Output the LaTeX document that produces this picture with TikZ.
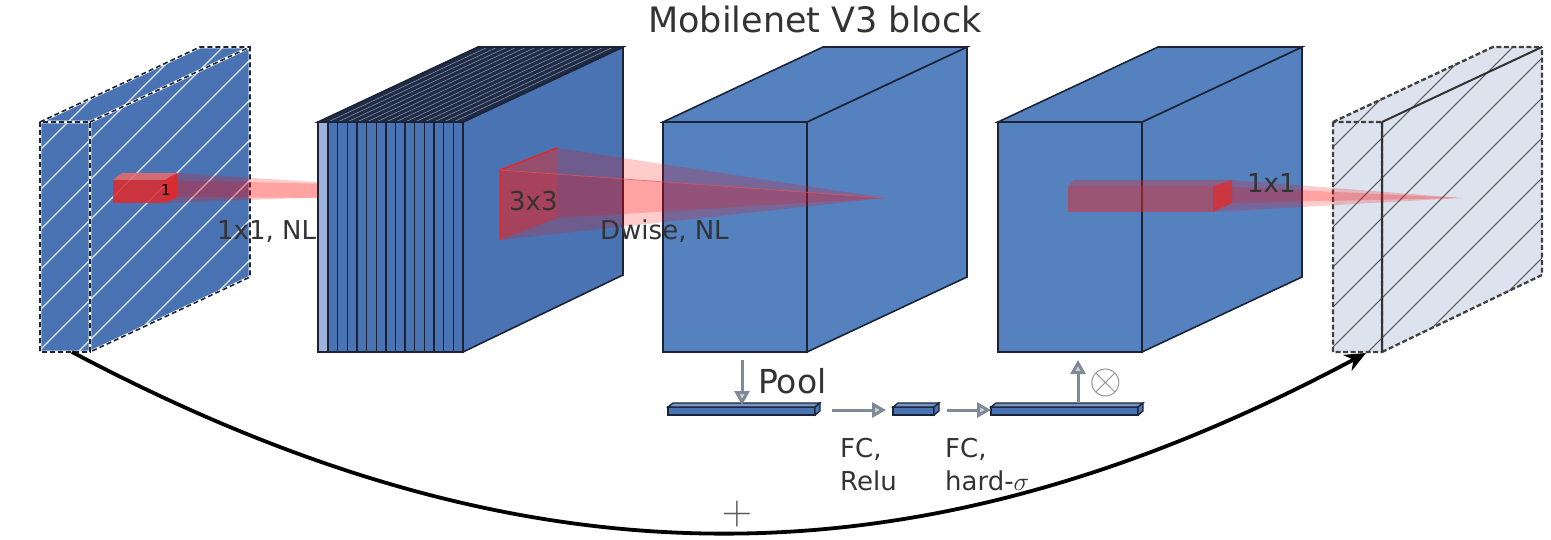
\RequirePackage{fix-cm}
\documentclass[tikz,border=0pt]{standalone}
\usepackage{fontspec}
\setmainfont{DejaVu Sans}
\usetikzlibrary{arrows.meta}
\definecolor{bblue}{HTML}{4A73B3}
\definecolor{cblue}{HTML}{5581BF}
\definecolor{edge}{HTML}{1A2436}
\definecolor{navy}{HTML}{1F2C47}
\definecolor{lslice}{HTML}{9DB3DA}
\definecolor{pale}{HTML}{DDE3EE}
\definecolor{txt}{HTML}{333333}
\definecolor{agray}{HTML}{7F8A96}
\definecolor{rbox}{HTML}{E02A2A}
\begin{document}
\begin{tikzpicture}[x=1pt,y=-1pt,
  edgeline/.style={draw=edge,line width=1.6pt},
  beam/.style={fill=red,fill opacity=0.2},
  hatchw/.style={draw=white!85!bblue,line width=1.4pt},
  hatchd/.style={draw=black!70,line width=1pt},
  dashedge/.style={draw=edge,line width=1.6pt,dash pattern=on 5pt off 3pt},
  garrow/.style={draw=agray,line width=3pt,-{Triangle[length=14pt,width=15pt,fill=agray!40]}},
  slabst/.style={fill=bblue,draw=edge,line width=1.3pt},
  lbl/.style={text=txt,inner sep=0pt,font=\fontsize{26}{30}\selectfont}]
\useasboundingbox (0,0) rectangle (1551,540);

% ---------- block 1 (input, hatched) ----------
\fill[bblue] (40,122) -- (40,352) -- (90,352) -- (250,277) -- (250,47) -- (200,47) -- cycle;
\begin{scope}
  \clip (40,122) -- (40,352) -- (90,352) -- (250,277) -- (250,47) -- (200,47) -- cycle;
  \foreach \k in {-330,-290,...,250} \draw[hatchw] (\k,400) -- ++(400,-400);
\end{scope}
\draw[white,line width=2.6pt] (40,122) rectangle (90,352) (90,122) -- (250,47) -- (250,277) -- (90,352) (40,122) -- (200,47) -- (250,47);
\draw[dashedge] (40,122) rectangle (90,352) (90,122) -- (250,47) -- (250,277) -- (90,352) (40,122) -- (200,47) -- (250,47);

% red 1x1 column and its projection
\fill[beam] (177,173) -- (330,183) -- (330,198) -- (177,197) -- cycle;
\fill[beam] (165,180) -- (330,184) -- (330,197) -- (165,203) -- cycle;
\fill[rbox,fill opacity=0.85] (113,180) rectangle (165,203);
\fill[rbox!70!white,fill opacity=0.85] (113,180) -- (122,173) -- (177,173) -- (165,180) -- cycle;
\fill[rbox,fill opacity=0.95] (165,180) -- (177,173) -- (177,197) -- (165,203) -- cycle;
\node[text=black,inner sep=0pt,anchor=base west,font=\fontsize{15}{15}\selectfont] (one) at (161,196) {1};

% ---------- block 2 (expansion, sliced) ----------
\filldraw[fill=bblue,edgeline] (463,122) -- (623,47) -- (623,275) -- (463,352) -- cycle;
\fill[navy] (318,122) -- (463,122) -- (623,47) -- (478,47) -- cycle;
\foreach \i in {0,...,14} \draw[draw=navy!55!white,line width=0.6pt] ({328+\i*9.643},122) -- ++(160,-75);
\draw[edgeline] (318,122) -- (463,122) -- (623,47) -- (478,47) -- cycle;
\fill[lslice] (318,122) rectangle (328,352);
\fill[bblue] (328,122) rectangle (463,352);
\foreach \i in {0,...,14} \draw[draw=edge,line width=1.3pt] ({328+\i*9.643},122) -- ++(0,230);
\draw[edgeline] (318,122) rectangle (463,352);

% ---------- block 3 ----------
\filldraw[fill=cblue,edgeline] (807,122) -- (967,47) -- (967,277) -- (807,352) -- cycle;
\filldraw[fill=cblue,edgeline] (663,122) -- (807,122) -- (967,47) -- (823,47) -- cycle;
\filldraw[fill=cblue,edgeline] (663,122) rectangle (807,352);

% red 3x3 patch and projection
\fill[beam] (557,148) -- (885,198) -- (557,218) -- cycle;
\fill[beam] (500,170) -- (885,198) -- (500,240) -- cycle;
\fill[rbox,fill opacity=0.5] (500,170) -- (557,148) -- (557,218) -- (500,240) -- cycle;
\draw[rbox,line width=1.5pt] (500,240) -- (500,170) -- (557,148);
\draw[rbox!80!white,line width=0.8pt,opacity=0.7] (500,170) -- (885,198);

% ---------- block 4 ----------
\filldraw[fill=cblue,edgeline] (1142,122) -- (1302,47) -- (1302,277) -- (1142,352) -- cycle;
\filldraw[fill=cblue,edgeline] (998,122) -- (1142,122) -- (1302,47) -- (1158,47) -- cycle;
\filldraw[fill=cblue,edgeline] (998,122) rectangle (1142,352);

% ---------- block 5 (output, hatched) ----------
\fill[pale] (1333,122) -- (1333,352) -- (1382,352) -- (1542,275) -- (1542,47) -- (1493,47) -- cycle;
\begin{scope}
  \clip (1333,122) -- (1333,352) -- (1382,352) -- (1542,275) -- (1542,47) -- (1493,47) -- cycle;
  \foreach \k in {960,1000,...,1540} \draw[hatchd] (\k,400) -- ++(400,-400);
\end{scope}
\draw[draw=black!75,line width=2.3pt,dash pattern=on 5pt off 2.5pt] (1333,122) rectangle (1382,352) (1382,352) -- (1542,275) -- (1542,47) (1333,122) -- (1493,47) -- (1542,47);
\draw[draw=black!80,line width=2pt] (1382,122) -- (1382,352) (1382,122) -- (1542,47);

% red 1x1 bar in block 4 and projection
\fill[beam] (1232,180) -- (1462,198) -- (1232,203) -- cycle;
\fill[beam] (1213,186) -- (1462,198) -- (1213,212) -- cycle;
\fill[rbox,fill opacity=0.5] (1068,186) rectangle (1213,212);
\fill[rbox,fill opacity=0.35] (1068,186) -- (1074,180) -- (1232,180) -- (1213,186) -- cycle;
\fill[rbox,fill opacity=0.8] (1213,186) -- (1232,180) -- (1232,203) -- (1213,212) -- cycle;

% ---------- squeeze-and-excite slabs ----------
\newcommand\seslab[2]{%
  \filldraw[slabst] (#1,407) rectangle ({#2-5},415);
  \filldraw[slabst,fill=bblue!75!white] (#1,407) -- ({#1+5},403) -- (#2,403) -- ({#2-5},407) -- cycle;
  \filldraw[slabst] ({#2-5},407) -- (#2,403) -- (#2,411) -- ({#2-5},415) -- cycle;}
\seslab{668}{820}
\seslab{893}{939}
\seslab{991}{1143}

\coordinate (poolS) at (742,360);
\coordinate (poolE) at (742,405);
\coordinate (fc1S) at (832,410);
\coordinate (fc1E) at (886,410);
\coordinate (fc2S) at (947,410);
\coordinate (fc2E) at (991,410);
\coordinate (mulS) at (1078,403);
\coordinate (mulE) at (1078,360);
\draw[garrow] (poolS) -- (poolE);
\draw[garrow] (fc1S) -- (fc1E);
\draw[garrow] (fc2S) -- (fc2E);
\draw[garrow] (mulS) -- (mulE);

% ---------- skip connection ----------
\coordinate (skipS) at (72,352);
\coordinate (skipE) at (1366,353);
\draw[black,line width=3.8pt,-{Stealth[length=21pt,width=18pt]}] (skipS) .. controls (527,593) and (916,593) .. (skipE);

% ---------- labels ----------
\node[text=txt,inner sep=0pt,anchor=base,font=\fontsize{35}{40}\selectfont] (title) at (815,33) {Mobilenet V3 block};
\node[lbl,anchor=base west] (l11nl) at (217,240) {1x1, NL};
\node[lbl,anchor=base west] (l33) at (509,211) {3x3};
\node[lbl,anchor=base west] (ldw) at (600,240) {Dwise, NL};
\node[lbl,anchor=base west] (l11) at (1247,193) {1x1};
\node[text=txt,inner sep=0pt,anchor=base west,font=\fontsize{33}{40}\selectfont] (lpool) at (758,393) {Pool};
\node[lbl,anchor=base west,align=left,font=\fontsize{26}{33}\selectfont] (lfc1) at (840,490) {FC,\\Relu};
\node[lbl,anchor=base west,align=left,font=\fontsize{26}{33}\selectfont] (lfc2) at (945,490) {FC,\\hard-$\sigma$};
\node[text=black!45,inner sep=0pt,font=\fontsize{42}{42}\selectfont] (lmul) at (1106,383) {$\otimes$};
\node[text=black!65,inner sep=0pt,font=\fontsize{42}{42}\selectfont] (lplus) at (737,514) {$+$};
\end{tikzpicture}
\end{document}
